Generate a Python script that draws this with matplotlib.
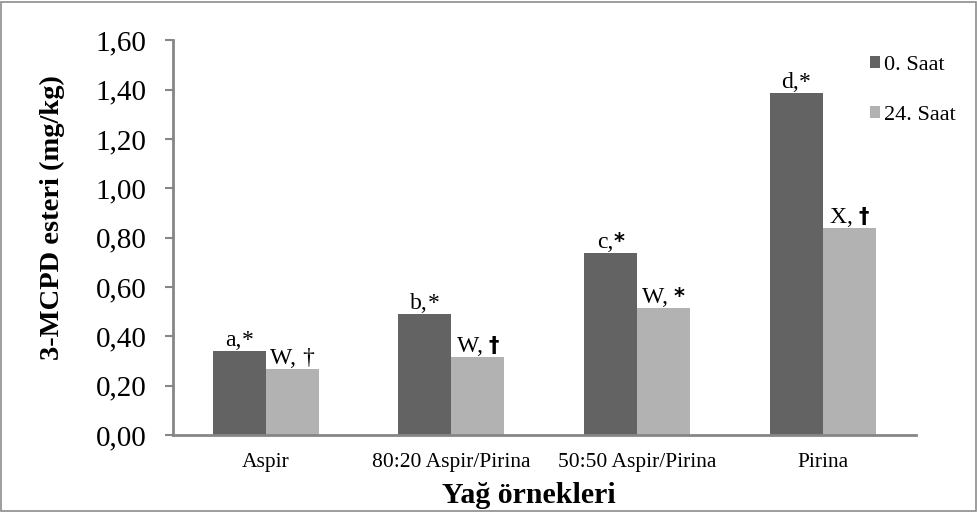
import matplotlib
matplotlib.use("Agg")
import matplotlib.pyplot as plt
from matplotlib.patches import Rectangle
from matplotlib.offsetbox import TextArea, HPacker, AnnotationBbox
import numpy as np

categories = ["Aspir", "80:20 Aspir/Pirina", "50:50 Aspir/Pirina", "Pirina"]
series_names = ["0. Saat", "24. Saat"]
saat0 = [0.342, 0.490, 0.737, 1.385]
saat24 = [0.268, 0.315, 0.516, 0.838]
# significance labels: letter group, mark, whether the mark is set heavy
letters0 = ["a,", "b,", "c,", "d,"]
marks0 = ["*", "*", "*", "*"]
heavy0 = [False, False, True, False]
letters24 = ["W, ", "W, ", "W, ", "X, "]
marks24 = ["†", "†", "*", "†"]
heavy24 = [False, True, True, True]
yticks = [0.0, 0.2, 0.4, 0.6, 0.8, 1.0, 1.2, 1.4, 1.6]
ytick_labels = ["0,00", "0,20", "0,40", "0,60", "0,80", "1,00", "1,20", "1,40", "1,60"]

plt.rcParams["font.family"] = ["Liberation Serif", "DejaVu Serif"]

dark = "#636363"
light = "#b2b2b2"
axis_gray = "#868686"

fig = plt.figure(figsize=(9.78, 5.12), dpi=100)
ax = fig.add_axes([0.1766, 0.1504, 0.7597, 0.7709])

x = np.arange(len(categories))
w = 0.285
b0 = ax.bar(x - w / 2, saat0, w, color=dark, label=series_names[0])
b1 = ax.bar(x + w / 2, saat24, w, color=light, label=series_names[1])


def put_label(rect, letter, mark, heavy):
    normal = dict(family="Liberation Serif", size=17, color="black")
    if heavy:
        markprops = dict(family="DejaVu Sans", weight="bold", size=15, color="black")
    else:
        markprops = normal
    box = HPacker(children=[TextArea(letter, textprops=normal),
                            TextArea(mark, textprops=markprops)],
                  align="baseline", pad=0, sep=0)
    ab = AnnotationBbox(box, (rect.get_x() + rect.get_width() / 2, rect.get_height()),
                        xybox=(0, 0), boxcoords="offset points",
                        box_alignment=(0.5, 0.0), frameon=False, pad=0.05)
    ax.add_artist(ab)


for rect, l, m, h in zip(b0, letters0, marks0, heavy0):
    put_label(rect, l, m, h)
for rect, l, m, h in zip(b1, letters24, marks24, heavy24):
    put_label(rect, l, m, h)

ax.set_xlim(-0.5, len(categories) - 0.5)
ax.set_ylim(0, 1.6)
ax.set_yticks(yticks)
ax.set_yticklabels(ytick_labels, fontsize=21)
ax.set_xticks(x)
ax.set_xticklabels(categories, fontsize=15.5)
ax.tick_params(axis="x", length=0, pad=13)
ax.tick_params(axis="y", length=6, width=1.5, color=axis_gray, pad=13)

for s in ["top", "right"]:
    ax.spines[s].set_visible(False)
for s in ["left", "bottom"]:
    ax.spines[s].set_color(axis_gray)
    ax.spines[s].set_linewidth(2)

ax.set_ylabel("3-MCPD esteri (mg/kg)", fontsize=20.5, fontweight="bold")
ax.yaxis.set_label_coords(-0.1625, 0.551)
ax.yaxis.label.set_verticalalignment("center")
ax.set_xlabel("Yağ örnekleri", fontsize=21.5, fontweight="bold")
ax.xaxis.set_label_coords(0.4795, -0.172)
ax.xaxis.label.set_verticalalignment("baseline")

leg = ax.legend(loc="upper left", bbox_to_anchor=(0.9385, 0.960), frameon=False,
                fontsize=16, handlelength=0.45, handleheight=0.45,
                handletextpad=0.18, labelspacing=1.4, borderaxespad=0,
                borderpad=0)

fig.patches.append(Rectangle((0.001, 0.002), 0.997, 0.995, transform=fig.transFigure,
                             fill=False, edgecolor="#8c8c8c", linewidth=1.2))

fig.savefig("out.png", dpi=100)
